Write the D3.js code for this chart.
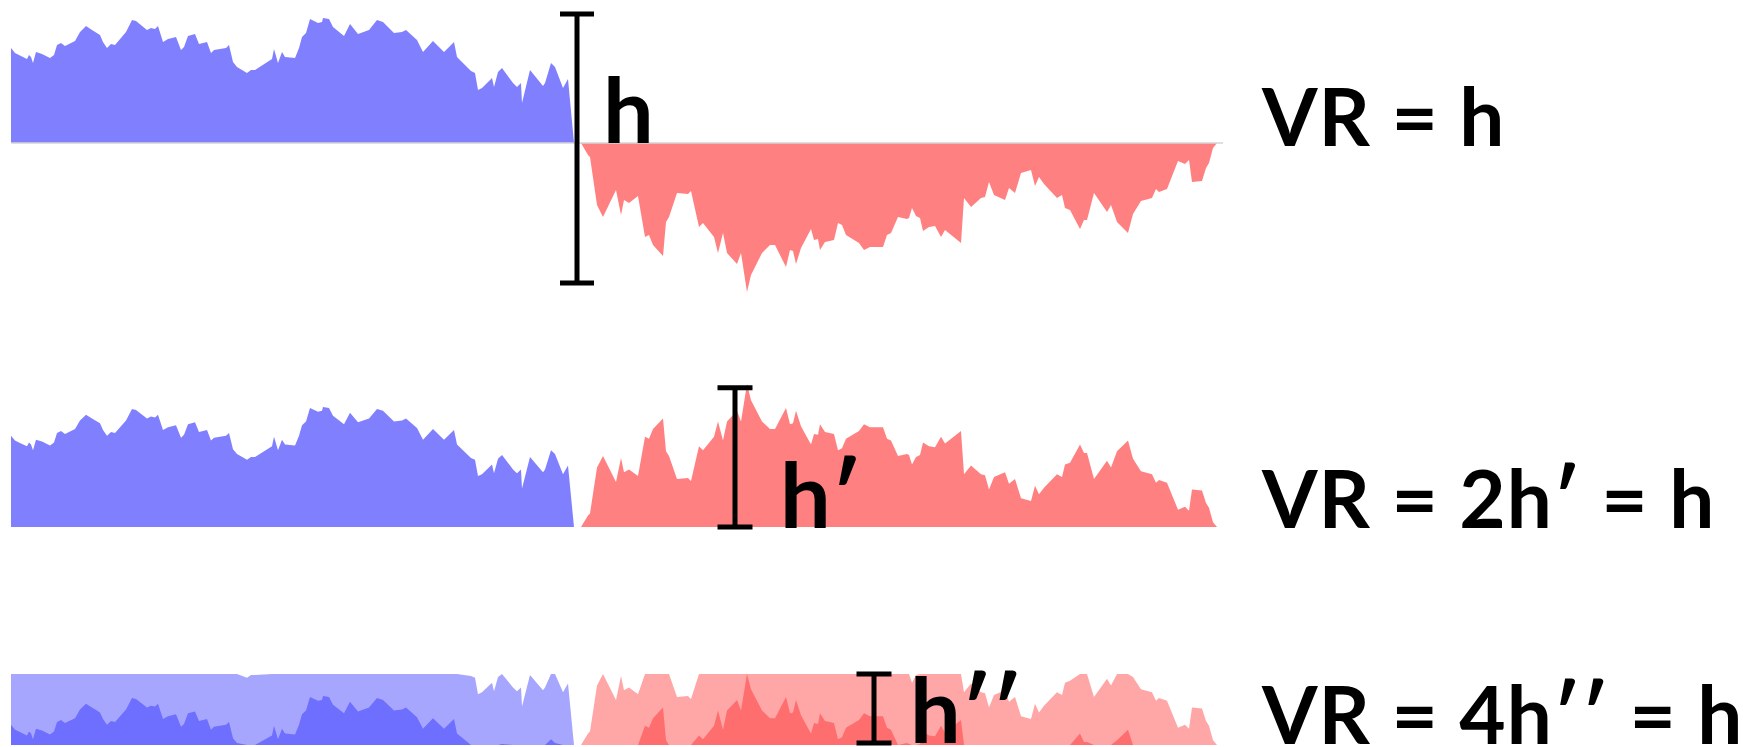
<!DOCTYPE html>
<meta charset="utf-8">
<style>
body {
  margin: 0;
  background: #fff;
}
.label {
  font-family: Lato, "Open Sans", sans-serif;
  font-weight: 700;
  fill: #000;
}
.bracket {
  stroke: #000;
  stroke-width: 5px;
  fill: none;
}
.base {
  stroke: #d4d4d4;
  stroke-width: 1.5px;
}
</style>
<body>
<svg width="1752" height="747"></svg>
<script src="https://d3js.org/d3.v7.min.js"></script>
<script>
// one series: step along x, value (up = positive)
var steps = [0,4,10,16,18,20,22,25,31,39,43,46,50,54,64,69,75,81,89,92,
  96,100,104,115,121,125,136,140,144,147,152,157,165,170,173,177,184,188,192,196,
  200,203,215,218,222,226,236,240,244,261,263,267,271,274,284,288,291,295,299,307,
  311,312,318,322,333,339,347,358,366,372,383,391,395,406,412,422,433,443,446,460,
  464,467,471,481,483,487,491,502,506,510,511,519,532,534,540,544,552,557,563,
  570,577,579,586,592,605,610,613,618,627,634,638,642,652,655,658,666,677,680,688,
  692,703,707,712,716,726,730,736,740,751,759,764,775,779,782,785,790,800,803,807,
  809,814,823,827,831,835,848,853,859,872,876,880,887,896,898,901,905,909,912,918,
  924,930,934,950,953,960,970,974,978,983,994,998,1004,1010,1020,1024,1028,1033,1046,1051,
  1054,1059,1069,1073,1076,1083,1096,1100,1106,1117,1122,1130,1141,1145,1148,1156,1167,1174,1178,1181,
  1191,1195,1198,1202,1206];

var values = [95,90,87,84,88,86,80,91,89,85,88,98,100,97,102,111,117,113,108,101,
  95,99,98,111,123,122,113,115,114,117,101,104,106,93,96,107,109,99,100,101,
  90,93,95,98,81,76,70,73,73,84,94,80,91,86,85,95,106,110,124,120,
  121,125,124,116,107,119,109,113,123,121,110,111,113,103,91,102,91,101,86,72,
  70,53,55,65,56,71,75,60,56,60,40,73,57,60,80,76,55,64,0,
  0,-12,-14,-62,-74,-47,-72,-57,-60,-53,-94,-92,-102,-113,-79,-74,-50,-51,-48,-84,
  -80,-94,-110,-90,-110,-121,-110,-149,-132,-110,-102,-102,-124,-107,-108,-121,-105,-86,-97,-96,
  -107,-99,-97,-80,-82,-92,-100,-107,-104,-104,-92,-90,-74,-76,-75,-65,-73,-75,-88,-84,
  -83,-94,-87,-100,-55,-64,-55,-54,-39,-52,-57,-45,-50,-30,-27,-43,-34,-41,-55,-52,
  -65,-67,-86,-77,-77,-50,-69,-62,-79,-90,-71,-58,-55,-46,-49,-46,-18,-21,-17,-39,
  -38,-25,-20,-5,0];

// annotations
var bandSize = 74;              // h'' in value units
var hRange = [-140, 129];       // the h bracket on the first row
var bracketSteps = [566, 724, 863];
var rightLabels = ["VR = h", "VR = 2h\u2032 = h", "VR = 4h\u2032\u2032 = h"];
var hLabels = ["h", "h\u2032", "h\u2032\u2032"];

var data = steps.map(function(s, i) { return {t: s, v: values[i]}; });

var svg = d3.select("svg");

var x = d3.scaleLinear().domain([0, 1206]).range([11, 1217]);

var y1 = d3.scaleLinear().domain([-150, 130]).range([293, 13]);
var y2 = d3.scaleLinear().domain([0, 150]).range([527, 383]);
var y3 = d3.scaleLinear().domain([0, bandSize]).range([745, 674]);

function pos(d) { return Math.max(d.v, 0); }
function neg(d) { return Math.max(-d.v, 0); }

function areaOf(y, f) {
  return d3.area()
    .x(function(d) { return x(d.t); })
    .y0(y(0))
    .y1(function(d) { return y(f(d)); });
}

// row 1 : plain area around zero
svg.append("path").attr("d", areaOf(y1, pos)(data)).attr("fill", "#8080ff");
svg.append("path").attr("d", areaOf(y1, function(d) { return Math.min(d.v, 0); })(data)).attr("fill", "#ff8080");

// row 2 : negatives mirrored
svg.append("path").attr("d", areaOf(y2, pos)(data)).attr("fill", "#8080ff");
svg.append("path").attr("d", areaOf(y2, neg)(data)).attr("fill", "#ff8080");

// row 3 : two bands
function band1(f) { return function(d) { return Math.min(f(d), bandSize); }; }
function band2(f) { return function(d) { return Math.min(Math.max(f(d) - bandSize, 0), bandSize); }; }

svg.append("path").attr("d", areaOf(y3, band1(pos))(data)).attr("fill", "#a6a6ff");
svg.append("path").attr("d", areaOf(y3, band1(neg))(data)).attr("fill", "#ffa6a6");
svg.append("path").attr("d", areaOf(y3, band2(pos))(data)).attr("fill", "#6e6eff");
svg.append("path").attr("d", areaOf(y3, band2(neg))(data)).attr("fill", "#ff6e6e");

svg.append("line").attr("class", "base")
    .attr("x1", x(0)).attr("x2", x(1212))
    .attr("y1", y1(0)).attr("y2", y1(0));

// brackets
function bracket(sx, yTop, yBot, w) {
  var cx = x(sx);
  var g = svg.append("g").attr("class", "bracket");
  g.append("line").attr("x1", cx).attr("x2", cx).attr("y1", yTop).attr("y2", yBot);
  g.append("line").attr("x1", cx - w / 2).attr("x2", cx + w / 2).attr("y1", yTop).attr("y2", yTop);
  g.append("line").attr("x1", cx - w / 2).attr("x2", cx + w / 2).attr("y1", yBot).attr("y2", yBot);
}
bracket(bracketSteps[0], y1(hRange[1]), y1(hRange[0]), 34);
bracket(bracketSteps[1], y2(145), y2(0), 35);
bracket(bracketSteps[2], y3(bandSize), y3(0) - 2, 35);

// h labels
var hPos = [[603, 143], [780, 528], [910, 743]];
hLabels.forEach(function(t, i) {
  svg.append("text").attr("class", "label")
      .attr("x", hPos[i][0]).attr("y", hPos[i][1])
      .style("font-size", "90px")
      .text(t);
});

// right side
var rightY = [146, 528, 744];
rightLabels.forEach(function(t, i) {
  svg.append("text").attr("class", "label")
      .attr("x", 1262).attr("y", rightY[i])
      .style("font-size", "80px")
      .style("letter-spacing", "1px")
      .text(t);
});
</script>
</body>
